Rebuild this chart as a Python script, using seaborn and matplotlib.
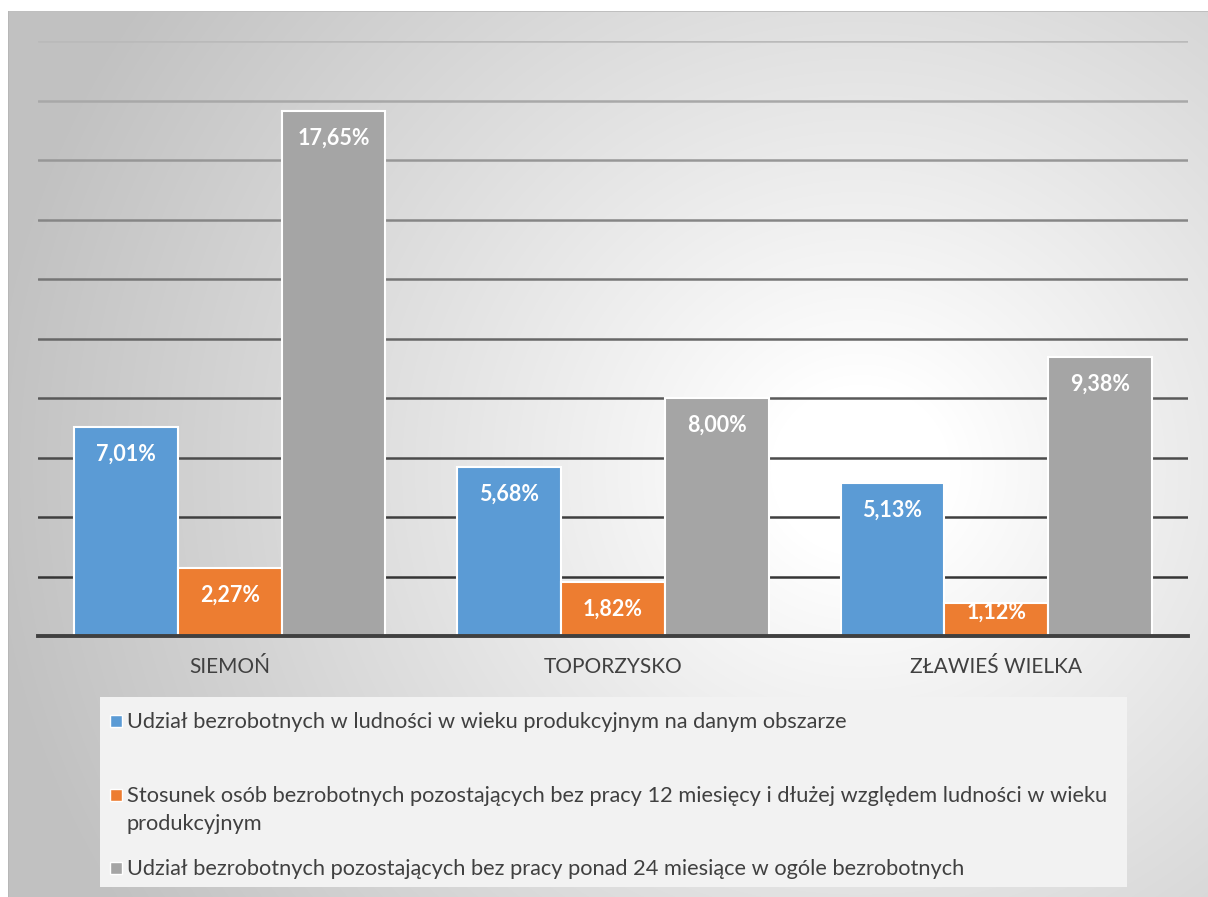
import numpy as np
import pandas as pd
import matplotlib
matplotlib.use("Agg")
import matplotlib.pyplot as plt
from matplotlib.patches import Rectangle
import seaborn as sns

categories = ["SIEMOŃ", "TOPORZYSKO", "ZŁAWIEŚ WIELKA"]
series_names = [
    "Udział bezrobotnych w ludności w wieku produkcyjnym na danym obszarze",
    "Stosunek osób bezrobotnych pozostających bez pracy 12 miesięcy i dłużej względem ludności w wieku\nprodukcyjnym",
    "Udział bezrobotnych pozostających bez pracy ponad 24 miesiące w ogóle bezrobotnych",
]
udzial_produkcyjny = [7.01, 5.68, 5.13]
stosunek_12m = [2.27, 1.82, 1.12]
udzial_24m = [17.65, 8.00, 9.38]
colors = ["#5B9BD5", "#ED7D31", "#A5A5A5"]

rows = []
for s, vals in zip(series_names, [udzial_produkcyjny, stosunek_12m, udzial_24m]):
    for c, v in zip(categories, vals):
        rows.append({"cat": c, "series": s, "val": v})
df = pd.DataFrame(rows)

sns.set_theme(style="white")
plt.rcParams["font.family"] = ["Lato", "DejaVu Sans"]

W, H = 1208, 897
fig = plt.figure(figsize=(W / 100, H / 100), dpi=100)
fig.patch.set_facecolor("white")

# background radial gradient
bg = fig.add_axes([0, 0, 1, 1], zorder=-10)
yy, xx = np.mgrid[0:H, 0:W]
r = np.hypot(xx - 860, (yy - 470) * 1.05)
t = np.clip((r - 90) / 780, 0, 1) ** 0.95
val = 1.0 - 0.24 * t
img = np.dstack([val, val, val])
img[:11, :, :] = 1.0
img[:, :8, :] = 1.0
img[11, 8:, :] = 0.75
img[11:, 8, :] = 0.72
bg.imshow(img, extent=[0, W, H, 0], aspect="auto", interpolation="bilinear")
bg.set_xlim(0, W)
bg.set_ylim(H, 0)
bg.axis("off")

ax = fig.add_axes([38 / W, (H - 636) / H, 1150 / W, 595 / H])
ax.patch.set_alpha(0)
sns.barplot(data=df, x="cat", y="val", hue="series", palette=colors,
            saturation=1, width=0.8125, edgecolor="white", linewidth=1.5,
            legend=False, ax=ax, errorbar=None)
ax.set_xlim(-0.5, 2.5)
ax.set_ylim(0, 20)
ax.set_yticks(np.arange(0, 21, 2))
ax.set_yticklabels([])
ax.tick_params(axis="y", length=0)
ax.tick_params(axis="x", length=0, pad=15, labelsize=15, labelcolor="#404040")
ax.set_xlabel("")
ax.set_ylabel("")
ax.set_axisbelow(True)
ax.yaxis.grid(True, linewidth=1.8)
ax.xaxis.grid(False)
for gl, yv in zip(ax.get_ygridlines(), np.arange(0, 21, 2)):
    f = yv / 20.0
    g = 0.18 + 0.55 * f ** 1.3
    gl.set_color((g, g, g))
for sp in ["left", "right", "top"]:
    ax.spines[sp].set_visible(False)
ax.spines["bottom"].set_color("#404040")
ax.spines["bottom"].set_linewidth(2.8)

# data labels
px_per_unit = 595 / 20
for cont in ax.containers:
    for rect in cont:
        h = rect.get_height()
        hpx = h * px_per_unit
        off = min(27, hpx - 24)
        ax.annotate(f"{h:.2f}".replace(".", ",") + "%",
                    (rect.get_x() + rect.get_width() / 2, h),
                    xytext=(0, -off * 0.72), textcoords="offset points",
                    ha="center", va="center", color="white",
                    fontsize=15.5, fontweight="bold")

# legend (manual, Excel-like layout)
fig.patches.append(Rectangle((100 / W, (H - 887) / H), 1027 / W, 190 / H,
                             transform=fig.transFigure, facecolor="#F2F2F2",
                             edgecolor="none", zorder=1))
leg_lines = [
    (721, [series_names[0]], 0),
    (795, series_names[1].split("\n"), 1),
    (868, [series_names[2]], 2),
]
for yc, lines, i in leg_lines:
    fig.patches.append(Rectangle((110 / W, (H - yc - 6) / H), 12 / W, 12 / H,
                                 transform=fig.transFigure, facecolor=colors[i],
                                 edgecolor="white", linewidth=1, zorder=2))
    for k, line in enumerate(lines):
        fig.text(127 / W, (H - (yc + 1 + 28 * k)) / H, line, ha="left",
                 va="center", fontsize=15.7, color="#404040", zorder=3)

fig.savefig("out.png", dpi=100)
